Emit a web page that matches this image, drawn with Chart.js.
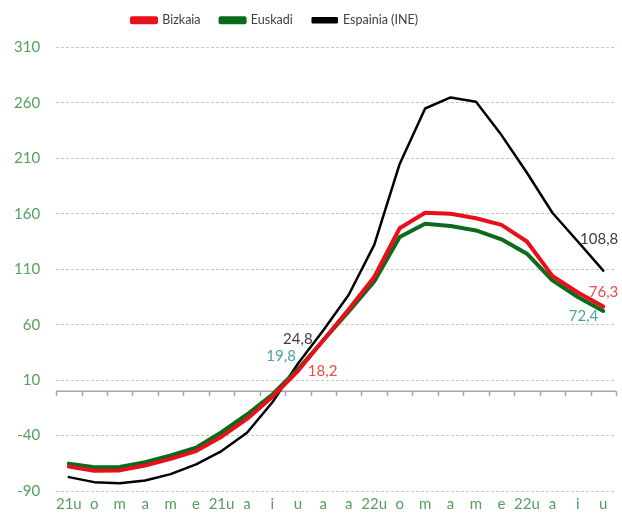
<!DOCTYPE html>
<html>
<head>
<meta charset="utf-8">
<script src="https://cdn.jsdelivr.net/npm/chart.js@4.4.0/dist/chart.umd.min.js"></script>
<style>
  body { margin: 0; background: #fff; }
</style>
</head>
<body>
<canvas id="chart-line" width="622" height="516"></canvas>
<script>
// hilabeteak (2021 urtarrila - 2022 urria)
const months = ['21u', 'o', 'm', 'a', 'm', 'e', '21u', 'a', 'i', 'u', 'a', 'a',
                '22u', 'o', 'm', 'a', 'm', 'e', '22u', 'a', 'i', 'u'];

const bizkaia  = [-68, -71.7, -71.4, -67, -61, -54, -41, -25, -5, 18.2, 46, 74,
                  103, 147, 161, 160, 156, 150, 135, 104, 89, 76.3];
const euskadi  = [-65.3, -68.6, -68.3, -64, -58, -51, -37, -21, -3, 19.8, 46, 72,
                  99, 139, 151, 149, 145, 137, 124, 100, 85, 72.4];
const espainia = [-77.5, -82, -83, -80.5, -74.8, -66, -54, -37.5, -10, 24.8, 55, 87,
                  132, 205, 255, 265, 261, 231, 197, 161, 135, 108.8];

const yMin = -90;
const yMax = 310;
const yStep = 50;

const green = '#55a05f';

// legendaren azpian tartea + ezkerrerantz mugitu
const legendSpace = {
    id: 'legendSpace',
    beforeInit(chart) {
        const fitValue = chart.legend.fit;
        chart.legend.fit = function fit() {
            fitValue.bind(chart.legend)();
            this.height += 11;
        };
    },
    afterLayout(chart) {
        chart.legend.left -= 32;
        chart.legend.right -= 32;
    }
};

// ardatza 0 balioan, marka txikiekin
const zeroAxis = {
    id: 'zeroAxis',
    beforeDatasetsDraw(chart) {
        const ctx = chart.ctx;
        const x = chart.scales.x;
        const y0 = chart.scales.y.getPixelForValue(0);
        ctx.save();
        ctx.strokeStyle = '#a6a6a6';
        ctx.lineWidth = 1.5;
        ctx.beginPath();
        ctx.moveTo(x.left, y0);
        ctx.lineTo(x.right, y0);
        for (let i = 0; i <= months.length; i++) {
            const px = Math.round(x.getPixelForValue(i - 0.5)) + 0.5;
            ctx.moveTo(px, y0);
            ctx.lineTo(px, y0 + 5);
        }
        ctx.stroke();
        ctx.restore();
    }
};

// datu etiketak
const labelSpots = [
    { ds: 2, i: 9,  color: '#404040', align: 'center', dx: 0,  dy: -25 },
    { ds: 1, i: 9,  color: '#4aa3a3', align: 'right',  dx: -2, dy: -13 },
    { ds: 0, i: 9,  color: '#f04a4a', align: 'left',   dx: 10, dy: 0 },
    { ds: 2, i: 21, color: '#404040', align: 'right',  dx: 15, dy: -31 },
    { ds: 0, i: 21, color: '#f04a4a', align: 'right',  dx: 15, dy: -14 },
    { ds: 1, i: 21, color: '#4aa3a3', align: 'right',  dx: -5, dy: 5 }
];

const valueLabels = {
    id: 'valueLabels',
    afterDatasetsDraw(chart) {
        const ctx = chart.ctx;
        ctx.save();
        ctx.font = '15px Lato';
        ctx.textBaseline = 'middle';
        labelSpots.forEach(s => {
            const pt = chart.getDatasetMeta(s.ds).data[s.i];
            const v = chart.data.datasets[s.ds].data[s.i];
            ctx.fillStyle = s.color;
            ctx.textAlign = s.align;
            ctx.fillText(v.toFixed(1).replace('.', ','), pt.x + s.dx, pt.y + s.dy);
        });
        ctx.restore();
    }
};

window.onload = function(){

    let myChart = new Chart(
        document.getElementById('chart-line'),
        {
            type: 'line',
            data: {
                labels: months,
                datasets: [
                    {
                        label: 'Bizkaia',
                        data: bizkaia,
                        borderColor: '#e8101a',
                        backgroundColor: '#e8101a',
                        borderWidth: 4
                    },
                    {
                        label: 'Euskadi',
                        data: euskadi,
                        borderColor: '#0b6b1c',
                        backgroundColor: '#0b6b1c',
                        borderWidth: 4
                    },
                    {
                        label: 'Espainia (INE)',
                        data: espainia,
                        borderColor: '#000000',
                        backgroundColor: '#000000',
                        borderWidth: 2.5
                    }
                ]
            },
            options: {
                responsive: false,
                animation: false,
                elements: {
                    point: { radius: 0 },
                    line: { tension: 0, borderCapStyle: 'round', borderJoinStyle: 'round' }
                },
                layout: {
                    padding: { left: -2, right: 6, top: -6, bottom: 0 }
                },
                scales: {
                    x: {
                        offset: true,
                        grid: { display: false, drawTicks: false },
                        border: { display: false },
                        ticks: {
                            autoSkip: false,
                            maxRotation: 0,
                            padding: 4,
                            color: green,
                            font: { family: 'Lato', size: 15 }
                        },
                        afterFit(scale) {
                            scale.height = 21;
                        }
                    },
                    y: {
                        min: yMin,
                        max: yMax,
                        border: { display: false, dash: [3, 2] },
                        grid: {
                            color: '#b5d6b5',
                            drawTicks: false
                        },
                        ticks: {
                            stepSize: yStep,
                            padding: 16,
                            color: green,
                            font: { family: 'Lato', size: 15 }
                        }
                    }
                },
                plugins: {
                    legend: {
                        position: 'top',
                        labels: {
                            boxWidth: 24,
                            boxHeight: 4,
                            padding: 20,
                            color: '#404040',
                            font: { family: 'Lato', size: 12.5 }
                        }
                    },
                    tooltip: { enabled: false }
                }
            },
            plugins: [legendSpace, zeroAxis, valueLabels]
        }
    );
}
</script>
</body>
</html>
